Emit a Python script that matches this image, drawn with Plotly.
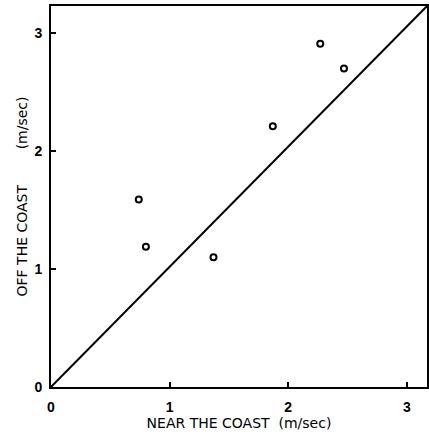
import plotly.graph_objects as go

# Observed wind speeds (m/sec)
near_coast = [0.74, 0.80, 1.37, 1.87, 2.27, 2.47]
off_coast = [1.59, 1.19, 1.10, 2.21, 2.91, 2.70]

# 1:1 reference line (runs from origin to the upper-right corner)
diag_x = [0, 3.17]
diag_y = [0, 3.23]

x_ticks = [0, 1, 2, 3]
y_ticks = [0, 1, 2, 3]
x_title = "NEAR THE COAST\u00a0\u00a0(m/sec)"
y_title = "OFF THE COAST\u00a0\u00a0\u00a0\u00a0\u00a0\u00a0\u00a0\u00a0(m/sec)"

fig = go.Figure()
fig.add_trace(go.Scatter(x=diag_x, y=diag_y, mode="lines",
                         line=dict(color="black", width=2), showlegend=False,
                         hoverinfo="skip"))
fig.add_trace(go.Scatter(x=near_coast, y=off_coast, mode="markers",
                         marker=dict(symbol="circle-open", size=6, color="black",
                                     line=dict(width=2, color="black")),
                         showlegend=False))

axis_common = dict(
    showgrid=False, zeroline=False, showline=True, linecolor="black", linewidth=2,
    mirror=True, ticks="inside", ticklen=5, tickwidth=1.5, tickcolor="black",
    tickfont=dict(family="Liberation Sans", size=14, color="black", weight="bold"),
    title_font=dict(family="DejaVu Sans", size=14, color="black"),
    automargin=False,
)

fig.update_xaxes(range=[diag_x[0], diag_x[1]], tickvals=x_ticks,
                 ticktext=[str(v) for v in x_ticks], title_text=x_title,
                 title_standoff=4, ticklabelstandoff=6, **axis_common)
fig.update_yaxes(range=[diag_y[0], diag_y[1]], tickvals=y_ticks,
                 ticktext=[str(v) for v in y_ticks], title_text=y_title,
                 title_standoff=4, ticklabelstandoff=4, **axis_common)

fig.update_layout(
    width=429, height=436,
    margin=dict(l=51, r=2, t=6, b=49, autoexpand=False),
    plot_bgcolor="white", paper_bgcolor="white",
)

fig.write_html(
    "out.html",
    config={"responsive": False, "displayModeBar": False},
    post_script="document.body.style.margin='0';document.body.style.overflow='hidden';",
)
